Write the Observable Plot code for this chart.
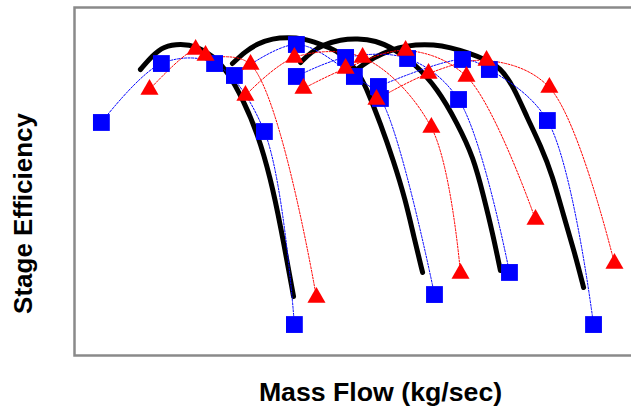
<!DOCTYPE html>
<html><head><meta charset="utf-8">
<script src="https://cdn.jsdelivr.net/npm/d3@7"></script>
<script src="https://cdn.jsdelivr.net/npm/@observablehq/plot@0.6"></script>
<style>html,body{margin:0;padding:0;background:#fff;overflow:hidden;width:631px;height:406px}#chart svg{max-width:none !important;display:block}</style>
</head><body><div id="chart"></div>
<script>
// Four speed lines
const speedLines = ["N1", "N2", "N3", "N4"];

// Black: model characteristic curves (mass flow kg/s, efficiency %)
const modelMass = [
  [2.33, 2.76, 3.14, 3.75, 4.35, 4.88, 5.41, 5.97, 6.47, 6.93, 7.28, 7.74],
  [5.58, 6.04, 6.47, 7.00, 7.53, 8.09, 8.62, 9.29, 9.75, 10.11, 10.35, 10.81, 11.27, 11.70, 11.98, 12.30],
  [7.99, 8.34, 8.80, 9.40, 10.00, 10.64, 11.27, 11.98, 12.83, 13.53, 14.10, 14.45, 14.77, 15.05],
  [9.93, 10.35, 10.88, 11.45, 12.05, 12.69, 13.29, 13.89, 14.52, 15.05, 15.51, 16.01, 16.47, 16.89, 17.28, 17.67, 17.99]
];
const modelEff = [
  [91.09, 93.10, 94.40, 94.83, 94.40, 93.10, 90.80, 86.64, 81.90, 75.43, 68.68, 58.48],
  [91.95, 93.68, 94.83, 95.55, 95.69, 95.55, 94.83, 93.82, 92.10, 90.09, 88.07, 83.33, 78.02, 72.27, 67.24, 61.93],
  [92.10, 93.53, 94.68, 95.40, 95.55, 95.26, 94.11, 92.10, 88.36, 83.33, 78.45, 72.99, 67.67, 62.21],
  [90.95, 92.24, 93.39, 94.25, 94.68, 94.68, 94.25, 93.53, 92.53, 91.38, 88.65, 84.05, 80.17, 75.86, 70.11, 64.80, 59.77]
];

// Blue squares: test data
const testMass = [
  [0.95, 3.07, 4.95, 6.71, 7.77],
  [5.65, 7.84, 9.89, 10.81, 12.72],
  [7.84, 9.58, 11.77, 13.57, 15.37],
  [10.74, 13.71, 14.66, 16.71, 18.34]
];
const testEff = [
  [83.48, 91.95, 91.95, 82.18, 54.45],
  [90.23, 94.68, 90.09, 86.93, 58.76],
  [90.09, 92.82, 92.67, 86.78, 61.93],
  [88.65, 92.53, 91.09, 83.76, 54.45]
];

// Red triangles: predictions
const predMass = [
  [2.65, 4.28, 4.63, 6.22, 8.55],
  [6.04, 7.77, 10.18, 12.61, 13.64],
  [8.09, 9.58, 11.70, 13.85, 16.29],
  [10.67, 12.51, 14.56, 16.78, 19.08]
];
const predEff = [
  [88.22, 93.97, 93.10, 91.81, 58.33],
  [87.36, 92.82, 92.82, 82.76, 61.78],
  [88.36, 91.24, 93.82, 90.09, 69.54],
  [86.78, 90.52, 92.39, 88.51, 63.22]
];

const xLabel = "Mass Flow (kg/sec)";
const yLabel = "Stage Efficiency";

function rows(massArr, effArr) {
  return speedLines.flatMap((s, i) => massArr[i].map((m, j) => ({speed: s, mass: m, eff: effArr[i][j]})));
}
const model = rows(modelMass, modelEff);
const test = rows(testMass, testEff);
const pred = rows(predMass, predEff);

const font = "'Liberation Sans', Arial, Helvetica, sans-serif";

const chart = Plot.plot({
  width: 640, height: 406,
  marginLeft: 74, marginRight: 0, marginTop: 7, marginBottom: 51,
  style: {fontFamily: font, background: "#fff"},
  x: {domain: [0, 20], axis: null},
  y: {domain: [50, 100], axis: null},
  marks: [
    Plot.line(model, {x: "mass", y: "eff", z: "speed", stroke: "#000", strokeWidth: 5, curve: "basis", strokeLinecap: "round"}),
    Plot.line(test, {x: "mass", y: "eff", z: "speed", stroke: "#0000ff", strokeWidth: 1, strokeDasharray: "2,1.5", curve: "catmull-rom"}),
    Plot.line(pred, {x: "mass", y: "eff", z: "speed", stroke: "#ff0000", strokeWidth: 1, strokeDasharray: "2,1.5", curve: "catmull-rom"}),
    Plot.dot(test, {x: "mass", y: "eff", symbol: "square", r: 9.5, fill: "#0000ff", stroke: null}),
    Plot.dot(pred, {x: "mass", y: "eff", symbol: "triangle", r: 6.7, fill: "#ff0000", stroke: null}),
    Plot.frame({stroke: "#8a8a8a", strokeWidth: 2.5}),
    Plot.text([xLabel], {frameAnchor: "bottom", dx: 23, dy: 45, text: d => d, textAnchor: "middle", lineAnchor: "bottom", fontSize: 26.7, fontWeight: "bold", fill: "#000"}),
    Plot.text([yLabel], {frameAnchor: "left", dx: -43, dy: 32, rotate: -90, text: d => d, textAnchor: "middle", lineAnchor: "bottom", fontSize: 26, fontWeight: "bold", fill: "#000"})
  ]
});
chart.style.maxWidth = "none";
chart.style.width = "640px";
chart.style.height = "406px";
document.getElementById("chart").appendChild(chart);
</script>
</body></html>
